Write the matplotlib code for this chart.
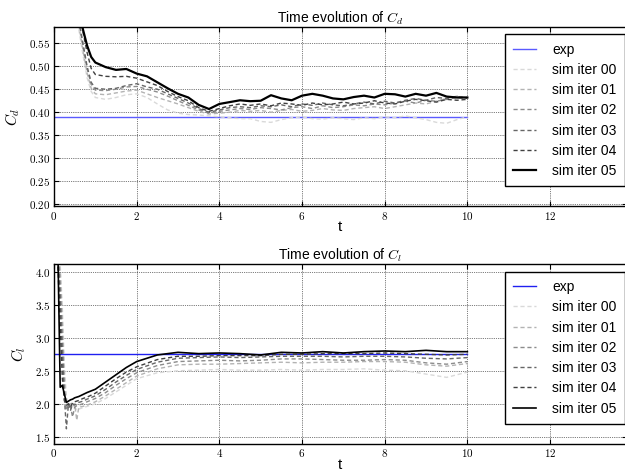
import numpy as np
from matplotlib import pyplot as plt
from matplotlib.ticker import FormatStrFormatter, MultipleLocator


# Данные

t_cd = [0.6, 0.7, 0.8, 0.9, 1.0, 1.25, 1.5, 1.75, 2.0, 2.25, 2.5, 2.75, 3.0, 3.25,
        3.5, 3.75, 4.0, 4.25, 4.5, 4.75, 5.0, 5.25, 5.5, 5.75, 6.0, 6.25, 6.5,
        6.75, 7.0, 7.25, 7.5, 7.75, 8.0, 8.25, 8.5, 8.75, 9.0, 9.25, 9.5, 9.75, 10.0]

cd_iter00 = [0.58, 0.525, 0.475, 0.445, 0.432, 0.428, 0.432, 0.438, 0.440, 0.432, 0.418,
             0.405, 0.398, 0.395, 0.394, 0.392, 0.390, 0.388, 0.386, 0.386, 0.380, 0.378,
             0.384, 0.388, 0.390, 0.386, 0.385, 0.388, 0.386, 0.384, 0.388, 0.386, 0.390,
             0.388, 0.392, 0.388, 0.384, 0.378, 0.376, 0.384, 0.390]
cd_iter01 = [0.59, 0.535, 0.485, 0.452, 0.440, 0.438, 0.442, 0.446, 0.448, 0.440, 0.432,
             0.425, 0.418, 0.410, 0.402, 0.396, 0.398, 0.400, 0.404, 0.402, 0.404, 0.400,
             0.404, 0.406, 0.402, 0.404, 0.408, 0.405, 0.404, 0.408, 0.410, 0.412, 0.408,
             0.412, 0.416, 0.420, 0.418, 0.424, 0.430, 0.435, 0.432]
cd_iter02 = [0.60, 0.545, 0.495, 0.460, 0.448, 0.447, 0.450, 0.455, 0.456, 0.450, 0.444,
             0.435, 0.425, 0.415, 0.405, 0.398, 0.402, 0.405, 0.408, 0.406, 0.410, 0.408,
             0.405, 0.410, 0.412, 0.408, 0.414, 0.410, 0.412, 0.416, 0.414, 0.418, 0.416,
             0.420, 0.424, 0.420, 0.426, 0.424, 0.428, 0.432, 0.430]
cd_iter03 = [0.60, 0.550, 0.500, 0.465, 0.452, 0.450, 0.452, 0.458, 0.462, 0.455, 0.450,
             0.440, 0.430, 0.420, 0.408, 0.400, 0.405, 0.410, 0.412, 0.410, 0.414, 0.412,
             0.416, 0.412, 0.418, 0.415, 0.420, 0.416, 0.414, 0.418, 0.422, 0.418, 0.424,
             0.420, 0.426, 0.430, 0.426, 0.432, 0.430, 0.434, 0.432]
cd_iter04 = [0.62, 0.575, 0.530, 0.495, 0.482, 0.478, 0.477, 0.478, 0.474, 0.466, 0.458,
             0.445, 0.434, 0.425, 0.410, 0.402, 0.408, 0.414, 0.418, 0.415, 0.418, 0.414,
             0.420, 0.418, 0.415, 0.420, 0.416, 0.418, 0.422, 0.418, 0.420, 0.425, 0.420,
             0.418, 0.424, 0.428, 0.425, 0.422, 0.428, 0.426, 0.428]
cd_iter05 = [0.62, 0.580, 0.545, 0.520, 0.508, 0.498, 0.492, 0.494, 0.484, 0.478, 0.465,
             0.452, 0.440, 0.432, 0.416, 0.407, 0.418, 0.422, 0.426, 0.424, 0.425, 0.437,
             0.430, 0.426, 0.436, 0.440, 0.436, 0.430, 0.428, 0.433, 0.436, 0.432, 0.440,
             0.439, 0.434, 0.440, 0.436, 0.442, 0.434, 0.432, 0.432]
cd_exp = 0.389

t_cl = [0.05, 0.1, 0.15, 0.2, 0.25, 0.3, 0.35, 0.4, 0.45, 0.5, 0.55, 0.6, 0.7, 0.8,
        1.0, 1.25, 1.5, 1.75, 2.0, 2.5, 3.0, 3.5, 4.0, 4.5, 5.0, 5.5, 6.0, 6.5,
        7.0, 7.5, 8.0, 8.5, 9.0, 9.5, 10.0]

cl_iter00 = [4.5, 4.35, 4.1, 3.5, 2.6, 2.1, 2.0, 1.98, 2.0, 1.96, 1.9, 1.92, 1.94, 1.96,
             2.0, 2.08, 2.18, 2.28, 2.38, 2.47, 2.50, 2.51, 2.52, 2.51, 2.51, 2.52, 2.51,
             2.52, 2.52, 2.53, 2.51, 2.50, 2.45, 2.40, 2.48]
cl_iter01 = [4.5, 4.3, 4.0, 3.3, 2.4, 2.0, 1.98, 2.0, 1.96, 2.0, 1.75, 1.95, 1.96, 1.98,
             2.03, 2.12, 2.22, 2.32, 2.42, 2.53, 2.59, 2.60, 2.60, 2.61, 2.62, 2.63, 2.62,
             2.63, 2.63, 2.64, 2.64, 2.63, 2.59, 2.57, 2.61]
cl_iter02 = [4.5, 4.25, 3.8, 3.0, 2.2, 1.9, 2.0, 1.95, 1.8, 1.95, 1.97, 1.98, 2.0, 2.03,
             2.08, 2.17, 2.28, 2.38, 2.47, 2.58, 2.64, 2.65, 2.66, 2.65, 2.66, 2.68, 2.68,
             2.67, 2.66, 2.66, 2.67, 2.66, 2.62, 2.60, 2.64]
cl_iter03 = [4.5, 4.2, 3.6, 2.8, 2.1, 1.62, 2.0, 1.9, 2.0, 1.98, 2.0, 2.02, 2.04, 2.07,
             2.12, 2.22, 2.33, 2.43, 2.52, 2.63, 2.69, 2.70, 2.71, 2.70, 2.71, 2.72, 2.72,
             2.72, 2.71, 2.72, 2.72, 2.71, 2.69, 2.68, 2.70]
cl_iter04 = [4.5, 4.0, 3.2, 2.4, 2.05, 1.98, 2.0, 1.95, 2.02, 2.03, 2.04, 2.05, 2.08, 2.1,
             2.16, 2.27, 2.38, 2.48, 2.56, 2.67, 2.72, 2.72, 2.73, 2.73, 2.73, 2.75, 2.75,
             2.76, 2.76, 2.76, 2.77, 2.76, 2.75, 2.74, 2.75]
cl_iter05 = [4.5, 4.1, 2.25, 2.28, 2.15, 2.02, 2.04, 2.06, 2.07, 2.09, 2.10, 2.11, 2.14, 2.17,
             2.22, 2.33, 2.44, 2.55, 2.64, 2.74, 2.78, 2.76, 2.77, 2.76, 2.74, 2.78, 2.77,
             2.79, 2.77, 2.79, 2.80, 2.79, 2.81, 2.79, 2.79]
cl_exp = 2.76

labels = ['sim iter 00', 'sim iter 01', 'sim iter 02', 'sim iter 03', 'sim iter 04', 'sim iter 05']
greys = ['0.85', '0.7', '0.55', '0.4', '0.25', 'k']


plt.rcParams['font.family'] = ['Liberation Sans', 'DejaVu Sans']
plt.rcParams['mathtext.fontset'] = 'cm'
plt.rcParams['xtick.direction'] = 'in'
plt.rcParams['ytick.direction'] = 'in'


def draw(ax, t, series, exp_val, exp_color, name, ylim, yfmt, ystep, lw_last):
    ax.plot([0, 10], [exp_val, exp_val], color=exp_color, lw=1, label='exp')
    for i, (y, lab) in enumerate(zip(series, labels)):
        if i < 5:
            ax.plot(t, y, color=greys[i], lw=1, ls='--', dashes=(3, 2), label=lab)
        else:
            ax.plot(t, y, color=greys[i], lw=lw_last, label=lab)

    ax.set_xlim(0, 13.85)
    ax.set_ylim(*ylim)
    ax.xaxis.set_major_locator(MultipleLocator(2))
    ax.yaxis.set_major_locator(MultipleLocator(ystep))
    ax.xaxis.set_major_formatter(FormatStrFormatter('$%d$'))
    ax.yaxis.set_major_formatter(FormatStrFormatter(yfmt))
    ax.tick_params(labelsize=8, top=True, right=True, pad=2.5)
    ax.grid(True, color='k', ls=':', lw=0.5)
    ax.set_title('Time evolution of $C_%s$' % name, fontsize=10, pad=3)
    ax.set_xlabel('t', fontsize=11, labelpad=-1)
    ax.set_ylabel('$C_%s$' % name, fontsize=11, labelpad=5)
    for s in ax.spines.values():
        s.set_linewidth(1)

    leg = ax.legend(loc='upper left', fontsize=10, fancybox=False, framealpha=1,
                    edgecolor='k', borderaxespad=0, borderpad=0.6,
                    handlelength=1.6, handletextpad=1.2, labelspacing=0.45)
    return leg


fig = plt.figure(figsize=(6.25, 4.75), dpi=100)
fig.patch.set_facecolor('white')

ax1 = fig.add_axes([0.0864, 0.566, 0.916, 0.377])
leg1 = draw(ax1, t_cd, [cd_iter00, cd_iter01, cd_iter02, cd_iter03, cd_iter04, cd_iter05],
            cd_exp, '#5a5aff', 'd', (0.196, 0.585), '$%.2f$', 0.05, 1.6)
leg1.set_bbox_to_anchor((0.808, 0.928), transform=fig.transFigure)

ax2 = fig.add_axes([0.0864, 0.0653, 0.916, 0.379])
leg2 = draw(ax2, t_cl, [cl_iter00, cl_iter01, cl_iter02, cl_iter03, cl_iter04, cl_iter05],
            cl_exp, '#2020f0', 'l', (1.39, 4.12), '$%.1f$', 0.5, 1.2)
leg2.set_bbox_to_anchor((0.808, 0.428), transform=fig.transFigure)

fig.savefig('out.png', dpi=100, facecolor='white')
